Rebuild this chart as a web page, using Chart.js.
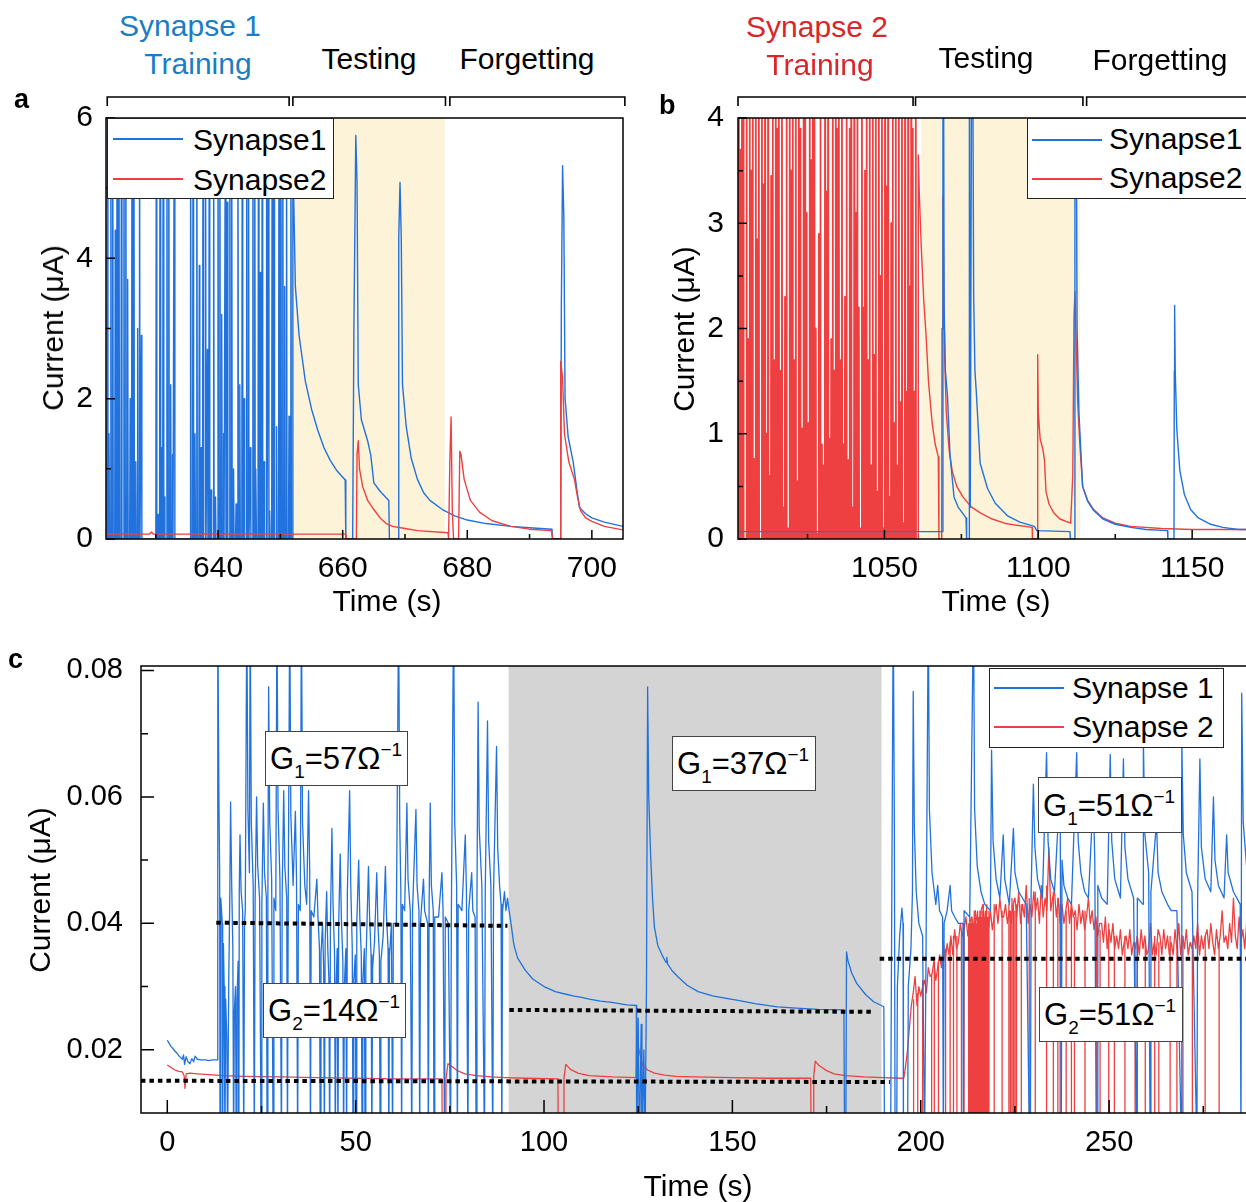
<!DOCTYPE html>
<html>
<head>
<meta charset="utf-8">
<script src="https://cdn.jsdelivr.net/npm/chart.js@4.4.1/dist/chart.umd.min.js"></script>
<style>
  body { margin: 0; width: 1246px; height: 1202px; overflow: hidden; background: #fff; position: relative;
         font-family: Arial, "Liberation Sans", sans-serif; color: #000; }
  .panel { position: absolute; }
  .txt { position: absolute; font-size: 30px; line-height: 30px; white-space: nowrap; }
  .mid { transform: translateX(-50%); }
  .ytitle { position: absolute; font-size: 30px; line-height: 30px; white-space: nowrap;
            transform: translate(-50%, -50%) rotate(-90deg); }
  .letter { position: absolute; font-size: 27px; line-height: 27px; font-weight: bold; }
  .legend { position: absolute; background: #fff; border: 1.2px solid #222; box-sizing: border-box; overflow: hidden; }
  .legend .ln { position: absolute; height: 2px; width: 70px; }
  .legend .lt { position: absolute; font-size: 30px; line-height: 30px; white-space: nowrap; }
  .ann { position: absolute; background: #fff; border: 1.2px solid #444; box-sizing: border-box;
         font-size: 31px; line-height: 31px; padding-left: 4px; display: flex; align-items: center; white-space: nowrap; }
  .ann sub { font-size: 19px; position: relative; top: 9px; vertical-align: baseline; line-height: 0; }
  .ann sup { font-size: 19px; position: relative; top: -13px; vertical-align: baseline; line-height: 0; }
</style>
</head>
<body>

<div class="panel" style="left:0;top:80px;width:640px;height:545px"><canvas id="ca" width="640" height="545"></canvas></div>
<div class="panel" style="left:640px;top:80px;width:640px;height:545px"><canvas id="cb" width="640" height="545"></canvas></div>
<div class="panel" style="left:0;top:636px;width:1262px;height:566px"><canvas id="cc" width="1262" height="566"></canvas></div>

<!-- phase headers -->
<div class="txt mid" style="left:190px;top:11px;color:#1c7dc3">Synapse 1</div>
<div class="txt mid" style="left:198px;top:49px;color:#1c7dc3">Training</div>
<div class="txt mid" style="left:369px;top:44px">Testing</div>
<div class="txt mid" style="left:527px;top:44px">Forgetting</div>
<div class="txt mid" style="left:817px;top:12px;color:#d9262b">Synapse 2</div>
<div class="txt mid" style="left:820px;top:50px;color:#d9262b">Training</div>
<div class="txt mid" style="left:986px;top:43px">Testing</div>
<div class="txt mid" style="left:1160px;top:45px">Forgetting</div>

<div class="letter" style="left:14px;top:86px">a</div>
<div class="letter" style="left:659px;top:92px">b</div>
<div class="letter" style="left:8px;top:646px">c</div>

<!-- axis titles -->
<div class="ytitle" style="left:53px;top:328px">Current (μA)</div>
<div class="ytitle" style="left:684px;top:329px">Current (μA)</div>
<div class="ytitle" style="left:40px;top:890px">Current (μA)</div>
<div class="txt mid" style="left:387px;top:586px">Time (s)</div>
<div class="txt mid" style="left:996px;top:586px">Time (s)</div>
<div class="txt mid" style="left:698px;top:1171px">Time (s)</div>

<!-- legends -->
<div class="legend" style="left:107px;top:118px;width:227px;height:81px">
  <div class="ln" style="left:5px;top:19px;background:#2172dc"></div>
  <div class="lt" style="left:85px;top:6px">Synapse1</div>
  <div class="ln" style="left:5px;top:59px;background:#ee4040"></div>
  <div class="lt" style="left:85px;top:46px">Synapse2</div>
</div>
<div class="legend" style="left:1027px;top:118px;width:260px;height:81px">
  <div class="ln" style="left:4px;top:20px;background:#2172dc"></div>
  <div class="lt" style="left:81px;top:5px">Synapse1</div>
  <div class="ln" style="left:4px;top:59px;background:#ee4040"></div>
  <div class="lt" style="left:81px;top:44px">Synapse2</div>
</div>
<div class="legend" style="left:989px;top:668px;width:235px;height:80px">
  <div class="ln" style="left:4px;top:18px;background:#2172dc"></div>
  <div class="lt" style="left:82px;top:4px">Synapse 1</div>
  <div class="ln" style="left:4px;top:57px;background:#ee4040"></div>
  <div class="lt" style="left:82px;top:43px">Synapse 2</div>
</div>

<!-- conductance notes -->
<div class="ann" style="left:265px;top:731px;width:143px;height:55px"><span>G<sub>1</sub>=57Ω<sup>−1</sup></span></div>
<div class="ann" style="left:263px;top:983px;width:143px;height:55px"><span>G<sub>2</sub>=14Ω<sup>−1</sup></span></div>
<div class="ann" style="left:672px;top:736px;width:144px;height:55px"><span>G<sub>1</sub>=37Ω<sup>−1</sup></span></div>
<div class="ann" style="left:1038px;top:777px;width:144px;height:56px"><span>G<sub>1</sub>=51Ω<sup>−1</sup></span></div>
<div class="ann" style="left:1039px;top:987px;width:144px;height:55px"><span>G<sub>2</sub>=51Ω<sup>−1</sup></span></div>

<script>
// ---------- panel a : synapse 1 training ----------
const aSyn1PulseT = [622.15,622.4,622.7,623.0,623.4,623.7,624.0,624.4,624.8,625.1,625.4,625.8,626.1,626.4,626.7,627.0,627.3,627.6,
  630.0,630.3,630.6,630.8,631.1,631.3,631.7,632.0,632.3,632.6,632.9,
  635.5,635.9,636.2,636.5,636.9,637.2,637.5,637.9,638.2,638.5,638.8,639.2,639.5,639.9,640.2,640.5,640.8,641.1,641.4,641.8,
  642.1,642.4,642.8,643.1,643.4,643.8,644.1,644.5,644.8,645.1,645.5,645.8,646.0,646.4,646.7,647.0,647.3,647.7,648.0,648.2,
  648.6,648.9,649.3,649.7,650.0,650.3,650.6,650.9,651.3,651.6];
const aSyn1PulsePeak = [7,1.5,7,7,4.4,7,7,7,7,7,3.7,2.0,7,7,1.1,3.0,7,2.9,
  7,0.35,7,1.3,7,0.6,7,7,2.2,1.2,7,
  7,7,1.5,7,3.9,1.3,7,7,2.7,7,0.7,7,0.6,7,7,3.2,1.5,7,4.8,7,
  7,1.0,0.5,7,2.2,7,2.0,7,7,1.3,7,7,1.0,7,3.8,7,1.1,7,7,0.4,
  7,7,1.6,7,7,7,3.6,7,1.75,7];
const aSyn1After = [[651.9,0],[652.0,7],[652.15,4.8],[652.4,3.6],[653,2.9],[654,2.25],[655,1.85],[656,1.55],[657,1.3],
  [658,1.12],[659,0.98],[660.4,0.84],[660.5,0],[661.6,0],[661.8,3.0],[662.1,5.75],[662.3,5.1],[662.5,2.2],[663,1.7],
  [664,1.4],[664.5,1.2],[665,0.8],[666,0.68],[667.4,0.55],[667.5,0],[668.9,0],[669.0,4.3],[669.2,5.08],[669.4,4.3],
  [669.6,2.2],[670.2,1.6],[671,1.15],[672,0.85],[673,0.66],[674,0.55],[676,0.42],[678,0.33],[680,0.27],[683,0.22],
  [687,0.18],[690,0.16],[693.6,0.14],[693.7,0],[695.0,0],[695.1,3.3],[695.3,5.32],[695.5,4.6],[695.7,2.0],[696.2,1.45],
  [697,1.1],[697.6,0.7],[698,0.45],[699,0.36],[700,0.3],[702,0.24],[705,0.18]];
const aSyn2 = [[622,0.07],[629,0.07],[629.3,0.1],[629.6,0.07],[660.5,0.07],[660.6,0],[662.2,0],[662.3,1.2],[662.5,1.4],
  [662.7,1.0],[663.2,0.75],[664,0.55],[665,0.42],[666,0.3],[667,0.22],[668,0.18],[670,0.15],[672,0.12],[676.9,0.09],
  [677.0,0],[677.2,1.1],[677.4,1.74],[677.6,0.4],[677.8,0],[678.6,0],[678.8,1.25],[679.0,1.2],[679.5,0.85],[680.5,0.55],
  [682,0.38],[684,0.26],[687,0.18],[690,0.14],[693.5,0.12],[693.7,0],[694.9,0],[695.0,2.53],[695.3,2.3],[695.6,1.5],
  [696.3,1.1],[697.2,0.85],[697.7,0.6],[698.2,0.4],[699,0.3],[700,0.25],[702,0.18],[705,0.13]];
const aShade = [651.7, 676.4];
const aPhases = [[622.2, 651.4], [652.0, 676.5], [677.2, 705.3]];

// ---------- panel b : synapse 2 training ----------
// one pulse every 0.5 s from 1002.6 s; most clip above 4 uA, the lower ones leave the white slits
const bSyn2PulseStart = 1002.6, bSyn2PulseStep = 0.5;
const bSyn2PulsePeak = [4.3,3.7,4.3,4.3,0,4.3,1.9,4.3,3.5,4.3,
  0.76,4.3,2.85,4.3,0,4.3,3.37,4.3,1.0,4.3,
  0.6,3.45,4.3,1.7,4.3,3.9,4.3,1.6,4.3,0.3,
  2.3,4.3,0.1,4.3,3.5,4.3,1.7,4.3,0.55,4.3,
  3.9,1.05,4.3,4.3,3.1,1.1,4.3,3.6,4.3,4.3,
  2.0,0.05,2.9,4.3,0.9,0.7,4.3,3.3,4.3,0.95,
  1.9,4.3,1.6,4.3,3.9,4.3,1.7,4.3,0.9,2.3,
  4.3,0.75,3.9,4.3,0.3,4.3,3.1,4.3,2.2,0.1,
  4.3,2.2,3.5,4.3,1.7,4.3,0.7,4.3,1.75,4.3,
  0.45,4.3,2.5,4.3,0.1,4.3,3.35,4.3,0.4,3.0,
  4.3,1.1,4.3,0.7,4.3,1.3,4.3,0.15,4.3,1.4,
  4.3,2.4,4.3,3.9,1.4,4.3];
const bSyn2After = [[1060.9,0],[1061.0,3.65],[1061.3,3.3],[1062,2.75],[1062.8,2.25],[1063.5,1.95],[1064.3,1.5],[1065.5,1.1],
  [1066.5,0.9],[1067.5,0.78],[1067.7,0],[1068.6,0],[1068.7,2.0],[1069.0,3.25],[1069.3,2.3],[1069.6,1.7],[1070.1,1.2],
  [1071,0.85],[1072,0.65],[1073.5,0.5],[1075.5,0.4],[1078,0.31],[1081,0.25],[1085,0.19],[1089,0.15],[1093,0.13],
  [1098.0,0.11],[1098.1,0],[1099.6,0],[1099.8,1.75],[1100.0,1.2],[1100.6,0.95],[1101.5,0.85],[1102.0,0.75],[1102.5,0.45],
  [1103.5,0.33],[1105,0.25],[1107,0.19],[1110.5,0.15],[1111.2,0.6],[1111.6,2.1],[1111.9,2.35],[1112.3,1.9],[1112.8,1.3],
  [1113.5,0.9],[1114.4,0.5],[1116,0.37],[1118,0.28],[1121,0.2],[1125,0.15],[1130,0.12],[1140,0.1],[1150,0.09],[1176,0.09]];
const bSyn1 = [[1002.4,0.07],[1068.9,0.07],[1069.0,4.5],[1069.2,4.5],[1069.4,2.2],[1069.8,1.6],[1070.5,1.35],[1071.3,0.8],
  [1072.6,0.4],[1074,0.3],[1076.5,0.2],[1076.7,0],[1077.5,0],[1077.6,4.5],[1077.9,0.3],[1078.3,4.5],[1078.7,4.5],
  [1079.0,2.3],[1079.4,1.6],[1079.9,1.37],[1081.1,0.72],[1083.5,0.48],[1086,0.34],[1090,0.22],[1094,0.16],[1098.7,0.12],
  [1099.5,0.08],[1110.3,0.07],[1110.4,0],[1111.8,0],[1111.9,4.5],[1112.3,4.5],[1112.6,2.0],[1113.2,1.2],[1114.4,0.5],
  [1116,0.36],[1118,0.27],[1121,0.19],[1125,0.14],[1130,0.11],[1135,0.09],[1142.0,0.08],[1142.1,0],[1144.1,0],
  [1144.2,1.6],[1144.3,2.22],[1144.5,1.6],[1145,1.05],[1146,0.65],[1147.5,0.42],[1149.5,0.28],[1152,0.2],[1156,0.14],
  [1160,0.11],[1165,0.09],[1176,0.09]];
const bShade = [1062.0, 1113.6];
const bPhases = [[1002.4, 1059.3], [1060.1, 1114.5], [1115.7, 1190]];

// ---------- panel c : both synapses ----------
const cSyn1Rest = [[0,0.0215],[0.5,0.021],[1,0.0205],[1.5,0.0202],[2,0.0198],[2.5,0.0195],[3,0.0191],[3.5,0.0188],
  [4,0.0185],[4.3,0.0192],[4.6,0.0177],[5,0.0189],[5.5,0.0181],[6,0.0178],[6.5,0.0186],[7,0.0181],[7.4,0.019],
  [8,0.0185],[9,0.0184],[10,0.0184],[11,0.0183],[12,0.0184],[13.2,0.0184]];
const cSyn1Train = [[13.4,0.09],[13.7,0.06],[13.9,0.048],[14.0,0.004],[14.2,0.044],[14.6,0.04],[14.7,0.004],[14.9,0.0368],
  [15.1,0.03],[15.3,0.004],[15.5,0.028],[15.8,0.022],[16.0,0.004],[16.3,0.03],[16.6,0.045],[16.8,0.0592],[17.1,0.046],
  [17.4,0.036],[17.6,0.004],[17.8,0.026],[18.1,0.03],[18.3,0.004],[18.5,0.028],[18.8,0.034],[19.0,0.004],[19.1,0.045],
  [19.3,0.054],[19.6,0.045],[20.0,0.042],[20.3,0.004],[20.5,0.04],[20.7,0.042],[21.1,0.09],[21.4,0.058],[21.8,0.048],
  [22.0,0.09],[22.3,0.056],[22.8,0.046],[23.1,0.004],[23.3,0.043],[23.7,0.060],[24.0,0.049],[24.5,0.044],[24.9,0.004],
  [25.1,0.043],[25.5,0.059],[25.8,0.048],[26.3,0.044],[26.5,0.004],[26.7,0.044],[26.9,0.0774],[27.2,0.056],[27.7,0.047],
  [28.1,0.004],[28.3,0.044],[28.8,0.042],[29.1,0.09],[29.4,0.058],[29.9,0.047],[30.3,0.004],[30.5,0.045],[30.9,0.061],
  [31.2,0.049],[31.7,0.044],[31.9,0.004],[32.1,0.044],[32.5,0.09],[32.8,0.057],[33.4,0.046],[34.0,0.0577],[34.3,0.047],
  [34.6,0.004],[34.8,0.043],[35.3,0.042],[35.6,0.09],[35.9,0.056],[36.5,0.046],[37.0,0.043],[37.5,0.061],[37.8,0.048],
  [38.0,0.004],[38.2,0.042],[38.9,0.041],[39.7,0.047],[40.0,0.041],[40.4,0.036],[40.6,0.004],[40.8,0.035],[41.2,0.04],
  [41.5,0.033],[41.7,0.004],[41.9,0.037],[42.3,0.045],[42.6,0.036],[42.9,0.031],[43.1,0.004],[43.3,0.04],[43.7,0.055],
  [44.0,0.043],[44.4,0.035],[44.6,0.004],[44.8,0.03],[45.1,0.036],[45.3,0.004],[45.5,0.04],[45.9,0.051],[46.2,0.041],
  [46.6,0.034],[46.8,0.004],[47.0,0.03],[47.4,0.036],[47.6,0.004],[47.8,0.045],[48.4,0.061],[48.7,0.046],[49.1,0.036],
  [49.3,0.004],[49.5,0.031],[49.9,0.035],[50.1,0.004],[50.3,0.04],[50.8,0.05],[51.1,0.041],[51.5,0.035],[51.7,0.004],
  [51.9,0.031],[52.3,0.036],[52.5,0.004],[52.7,0.033],[53.4,0.049],[53.7,0.041],[54.1,0.035],[54.3,0.004],[54.5,0.033],
  [55.0,0.037],[55.6,0.048],[55.9,0.04],[56.3,0.035],[56.5,0.004],[56.7,0.034],[57.3,0.038],[57.9,0.049],[58.2,0.041],
  [58.6,0.036],[58.8,0.004],[59.0,0.035],[59.5,0.04],[59.8,0.004],[60.0,0.04],[60.8,0.04],[61.4,0.09],[61.7,0.056],
  [62.0,0.045],[62.2,0.004],[62.4,0.043],[63.0,0.042],[63.6,0.059],[63.9,0.047],[64.5,0.042],[64.9,0.004],[65.1,0.042],
  [66.0,0.058],[66.3,0.046],[66.8,0.042],[67.0,0.004],[67.2,0.04],[68.0,0.047],[68.3,0.042],[69.1,0.04],[69.3,0.004],
  [69.5,0.043],[69.8,0.059],[70.1,0.046],[70.6,0.042],[70.8,0.004],[71.0,0.041],[72.0,0.041],[72.9,0.048],[73.2,0.042],
  [73.6,0.004],[73.8,0.041],[74.6,0.04],[75.2,0.004],[75.4,0.041],[76.0,0.09],[76.3,0.056],[76.8,0.046],[77.0,0.004],
  [77.2,0.043],[78.2,0.042],[79.1,0.054],[79.4,0.045],[79.8,0.004],[80.0,0.042],[80.8,0.048],[81.1,0.042],[81.7,0.041],
  [82.0,0.004],[82.2,0.044],[82.5,0.075],[82.8,0.055],[83.5,0.046],[84.2,0.004],[84.4,0.045],[85.0,0.072],[85.3,0.053],
  [85.9,0.046],[86.4,0.004],[86.6,0.045],[87.4,0.068],[87.7,0.052],[88.2,0.046],[88.6,0.043],[88.8,0.004],[89.0,0.042],
  [89.5,0.045],[89.9,0.042],[90.3,0.044],[90.6,0.0425]];
const cSyn1Test = [[91,0.041],[92,0.0366],[93,0.0345],[95,0.0326],[97,0.0312],[100,0.030],[103,0.0292],[105,0.0289],
  [108,0.0285],[110,0.0283],[112,0.028],[115,0.0277],[118,0.0275],[120,0.0273],[122,0.0271],[124.5,0.027],[124.6,0.004],
  [125.0,0.025],[125.3,0.004],[125.8,0.024],[126.0,0.004],[126.5,0.02],[126.8,0.004],[127.2,0.03],[127.5,0.0774],
  [127.8,0.06],[128.3,0.0508],[128.8,0.044],[129.3,0.0394],[130.2,0.0365],[131.4,0.0349],[132.4,0.0338],[132.6,0.0346],
  [132.8,0.0336],[134,0.0325],[135.6,0.0315],[138,0.0302],[140.9,0.0292],[145,0.0285],[151.5,0.0278],[156,0.0273],
  [162,0.0268],[167,0.0266],[172.7,0.0264],[179.6,0.0263],[179.8,0.004],[180.1,0.004],[180.3,0.0355],[180.7,0.034],
  [181.7,0.0321],[183,0.0305],[185.4,0.0287],[187.5,0.0276],[190.2,0.0268]];
const cSyn1Late = [[190.4,0.004],[192.0,0.004],[192.2,0.03],[192.7,0.09],[193.0,0.055],[193.2,0.004],[193.6,0.004],
  [193.8,0.03],[194.4,0.038],[195.0,0.0424],[195.3,0.04],[195.4,0.004],[196.5,0.004],[196.7,0.03],[197.4,0.036],
  [197.8,0.045],[198.0,0.0767],[198.3,0.055],[198.8,0.045],[199.5,0.04],[200.5,0.038],[201.0,0.004],[201.4,0.035],
  [202.0,0.09],[202.3,0.058],[203,0.048],[204,0.043],[204.5,0.046],[205,0.042],[205.8,0.041],[206.0,0.004],[206.2,0.04],
  [207.0,0.042],[207.8,0.046],[208.2,0.042],[209,0.041],[210,0.04],[211.2,0.04],[211.3,0.004],[211.5,0.042],[213,0.041],
  [214.0,0.09],[214.3,0.058],[215,0.049],[216,0.045],[217,0.043],[218.5,0.042],[218.8,0.0674],[219.2,0.053],[220,0.047],
  [221,0.044],[221.9,0.054],[222.3,0.047],[223.5,0.043],[224.6,0.055],[225,0.048],[226,0.045],[227,0.044],[228,0.043],
  [228.9,0.004],[229.1,0.004],[229.3,0.045],[229.9,0.062],[230.3,0.052],[231,0.047],[232.3,0.044],[233.4,0.067],
  [233.8,0.053],[234.5,0.047],[235.5,0.045],[237.0,0.062],[237.3,0.004],[237.5,0.05],[238,0.046],[239,0.044],[240,0.043],
  [241.4,0.067],[241.8,0.053],[242.5,0.048],[243.5,0.045],[244.5,0.044],[245.8,0.06],[246.2,0.05],[246.6,0.004],
  [246.8,0.004],[247,0.046],[248,0.044],[249.5,0.043],[250.3,0.0667],[250.7,0.053],[251.5,0.047],[253,0.044],
  [253.8,0.066],[254.2,0.052],[255,0.047],[256.5,0.044],[257.3,0.004],[257.5,0.044],[259.0,0.043],[259.1,0.069],
  [259.5,0.054],[260.5,0.048],[260.9,0.004],[261.1,0.045],[262.6,0.056],[263,0.048],[264,0.045],[265.5,0.043],
  [266.5,0.042],[268,0.042],[269.2,0.004],[269.3,0.069],[269.7,0.054],[270.5,0.048],[272,0.045],[273.3,0.004],
  [273.5,0.044],[274.1,0.066],[274.5,0.052],[275.5,0.047],[277,0.045],[277.7,0.06],[278.1,0.05],[279,0.046],
  [280.5,0.044],[281.2,0.054],[281.6,0.048],[283,0.045],[284.8,0.043],[285.0,0.004],[285.2,0.0764],[285.6,0.056],
  [286.5,0.049],[287.5,0.046]];
const cSyn2Early = [[0,0.0176],[1,0.0172],[2,0.0168],[3,0.0166],[4,0.0165],[4.5,0.0158],[4.7,0.0139],[5.0,0.0162],
  [6,0.0163],[8,0.0162],[10,0.0161],[15,0.0159],[20,0.0158],[30,0.0157],[40,0.0156],[50,0.0155],[60,0.0154],
  [72.9,0.0154],[73.0,0.004],[73.9,0.004],[74.0,0.0155],[74.5,0.0178],[75.5,0.0174],[77,0.0167],[79,0.0162],
  [82,0.0159],[86,0.0157],[90,0.0156],[95,0.0155],[103.7,0.0154],[103.8,0.004],[105.2,0.004],[105.3,0.0156],
  [105.8,0.0177],[107,0.0169],[109,0.0163],[112,0.0159],[118,0.0157],[124.4,0.0156],[124.6,0.0226],[125,0.0205],
  [126.2,0.0175],[127.5,0.0168],[129.3,0.0163],[132,0.016],[135,0.0158],[140,0.0157],[150,0.0156],[160,0.0155],
  [170.8,0.0155],[170.9,0.004],[171.5,0.004],[171.6,0.0158],[172,0.0182],[173,0.0175],[175,0.0167],[177,0.0162],
  [180,0.0159],[185,0.0157],[190,0.0156],[195.0,0.0155]];
const cSyn2LateStart = 195.5, cSyn2LateStep = 0.5;
const cSyn2Late = [0.0155,0.0175,0.020,0.0236,0.027,0.029,0.0316,0.027,0.030,0.0285,
  0.030,0.031,0.029,0.033,0.0316,0.032,0.034,0.031,0.033,0.035,
  0.033,0.037,0.034,0.0368,0.035,0.038,0.035,0.039,0.036,0.037,
  0.040,0.038,0.039,0.041,0.038,0.040,0.041,0.039,0.042,0.040,
  0.040,0.042,0.043,0.040,0.041,0.039,0.042,0.039,0.041,0.043,
  0.040,0.044,0.041,0.041,0.043,0.040,0.042,0.040,0.043,0.044,
  0.041,0.045,0.040,0.043,0.041,0.046,0.040,0.043,0.041,0.045,
  0.042,0.044,0.040,0.046,0.041,0.044,0.042,0.052,0.042,0.044,
  0.045,0.041,0.044,0.040,0.043,0.040,0.042,0.044,0.040,0.043,
  0.041,0.042,0.039,0.043,0.040,0.042,0.039,0.041,0.044,0.040,
  0.042,0.039,0.041,0.038,0.040,0.040,0.037,0.041,0.036,0.039,
  0.037,0.040,0.036,0.038,0.036,0.039,0.035,0.037,0.038,0.036,
  0.039,0.035,0.037,0.036,0.038,0.035,0.039,0.036,0.038,0.035,
  0.036,0.040,0.035,0.037,0.035,0.039,0.038,0.035,0.039,0.036,
  0.038,0.035,0.037,0.035,0.039,0.036,0.040,0.035,0.038,0.036,
  0.039,0.035,0.037,0.036,0.038,0.036,0.040,0.035,0.038,0.036,
  0.038,0.039,0.036,0.040,0.037,0.035,0.039,0.036,0.038,0.042,
  0.037,0.038,0.036,0.040,0.037,0.044,0.038,0.036,0.041,0.037,
  0.039,0.036,0.040,0.037,0.038];
const cSyn2DropT = [198.1,199.2,200.5,202.9,203.6,204.7, 206.6,207.8,208.7,209.6,210.8,211.5,
  212.7,213.0,213.3,213.6,213.9,214.2,214.5,214.8,215.1,215.4, 215.7,216.0,216.3,216.6,216.9,217.2,217.5,217.8,218.1,
  219.5,221.6,223.4,223.8,224.2,224.6,225.0,225.4, 226.7,228.8,230.4,233.4,235.2,236.4,237.0,238.6,240.0,240.8,
  243.6,246.7,247.6,249.9,251.4,254.2,256.9,257.5,259.6,262.1, 263.2,266.2,268.0,269.6,272.1,275.5,279.2];
const cSyn2DropTop = [0.028,0.029,0.031,0.032,0.034,0.034, 0.036,0.037,0.038,0.038,0.039,0.040,
  0.040,0.041,0.040,0.041,0.040,0.042,0.041,0.040,0.042,0.041, 0.042,0.041,0.042,0.043,0.041,0.042,0.043,0.041,0.042,
  0.043,0.042,0.043,0.042,0.044,0.043,0.042,0.043, 0.043,0.044,0.045,0.046,0.045,0.044,0.043,0.042,0.043,0.041,
  0.042,0.040,0.039,0.040,0.038,0.038,0.037,0.038,0.037,0.038, 0.037,0.038,0.037,0.038,0.037,0.038,0.037];
const cGuide1 = [[13,0.0401],[90.3,0.0396]];
const cGuide2 = [[90.8,0.0263],[187.6,0.026]];
const cGuide3 = [[-7,0.0151],[191.8,0.0149]];
const cGuide4 = [[189.1,0.0344],[287.4,0.0344]];
const cShade = [90.6, 189.6];

const BLUE = '#2172dc', RED = '#ee4040';

// ---------- helpers ----------
const pts = p => p.map(([x, y]) => ({x, y}));
const sampled = (t0, dt, v) => v.map((y, i) => ({x: t0 + i * dt, y}));
const pulses = (ts, pk) => ts.flatMap((t, i) => [{x: t, y: 0}, {x: t + 0.08, y: pk[i]}, {x: t + 0.16, y: 0}]);
const drops = (ts, top) => ts.flatMap((t, i) => [{x: t, y: 0.004}, {x: t, y: top[i]}, {x: t, y: null}]);

const shadePlugin = {
  id: 'shade',
  beforeDatasetsDraw(chart, args, o) {
    if (!o || !o.range) return;
    const {ctx, chartArea: a, scales: {x}} = chart;
    const x0 = Math.max(a.left, x.getPixelForValue(o.range[0]));
    const x1 = Math.min(a.right, x.getPixelForValue(o.range[1]));
    ctx.save();
    ctx.fillStyle = o.color;
    ctx.fillRect(x0, a.top, x1 - x0, a.bottom - a.top);
    ctx.restore();
  }
};

// box frame + inward ticks on bottom and left
const framePlugin = {
  id: 'frame',
  afterDatasetsDraw(chart, args, o) {
    const {ctx, chartArea: a, scales: {x, y}} = chart;
    const minor = s => {
      const v = s.ticks.map(t => t.value), st = v[1] - v[0];
      return v.map(t => t - st / 2).concat([v[v.length - 1] + st / 2]).filter(m => m > s.min && m < s.max);
    };
    ctx.save();
    ctx.strokeStyle = '#000';
    ctx.lineWidth = 1.5;
    ctx.beginPath();
    x.ticks.forEach(t => { const p = x.getPixelForValue(t.value); ctx.moveTo(p, a.bottom); ctx.lineTo(p, a.bottom - o.major); });
    minor(x).forEach(m => { const p = x.getPixelForValue(m); ctx.moveTo(p, a.bottom); ctx.lineTo(p, a.bottom - o.minor); });
    y.ticks.forEach(t => { const p = y.getPixelForValue(t.value); ctx.moveTo(a.left, p); ctx.lineTo(a.left + o.major, p); });
    minor(y).forEach(m => { const p = y.getPixelForValue(m); ctx.moveTo(a.left, p); ctx.lineTo(a.left + o.minor, p); });
    ctx.stroke();
    ctx.strokeRect(a.left, a.top, a.right - a.left, a.bottom - a.top);
    ctx.restore();
  }
};

const bracketPlugin = {
  id: 'brackets',
  afterDraw(chart, args, o) {
    if (!o || !o.spans) return;
    const {ctx, chartArea: a, scales: {x}} = chart;
    const yTop = a.top - 21, yEnd = yTop + 9;
    ctx.save();
    ctx.strokeStyle = '#000';
    ctx.lineWidth = 1.6;
    ctx.beginPath();
    o.spans.forEach(([s, e]) => {
      const x0 = x.getPixelForValue(s), x1 = x.getPixelForValue(e);
      ctx.moveTo(x0, yEnd); ctx.lineTo(x0, yTop); ctx.lineTo(x1, yTop); ctx.lineTo(x1, yEnd);
    });
    ctx.stroke();
    ctx.restore();
  }
};

Chart.defaults.font.family = 'Arial, "Liberation Sans", sans-serif';
Chart.defaults.color = '#000';

function makePanel(id, datasets, c) {
  return new Chart(document.getElementById(id), {
    type: 'line',
    data: { datasets },
    options: {
      animation: false, responsive: false, devicePixelRatio: 1,
      layout: { padding: c.pad },
      elements: { point: { radius: 0 }, line: { tension: 0, borderJoinStyle: 'round' } },
      plugins: {
        legend: { display: false }, tooltip: { enabled: false },
        shade: c.shade, brackets: c.brackets || {}, frame: { major: c.major, minor: c.minor }
      },
      scales: {
        x: {
          type: 'linear', min: c.x[0], max: c.x[1],
          grid: { display: false }, border: { display: false },
          ticks: { stepSize: c.x[2], includeBounds: false, autoSkip: false, maxRotation: 0,
                   padding: c.xPad, font: { size: c.fs }, callback: v => String(v) },
          afterFit: s => { s.height = c.xh; }
        },
        y: {
          type: 'linear', min: c.y[0], max: c.y[1],
          grid: { display: false }, border: { display: false },
          ticks: { stepSize: c.y[2], includeBounds: false, padding: c.yPad, font: { size: c.fs },
                   callback: c.yFmt || (v => String(v)) },
          afterFit: s => { s.width = c.yw; }
        }
      }
    },
    plugins: [shadePlugin, framePlugin, bracketPlugin]
  });
}

const line = (data, color, w, order) => ({ data, borderColor: color, borderWidth: w, order, spanGaps: false });
const guide = data => ({ data: pts(data), borderColor: '#000', borderWidth: 4, borderDash: [4.5, 4], order: 0 });

makePanel('ca', [
  line(pulses(aSyn1PulseT, aSyn1PulsePeak).concat(pts(aSyn1After)), BLUE, 1.4, 2),
  line(pts(aSyn2), RED, 1.4, 1)
], { pad: {left: 0, top: 38, right: 17, bottom: 0}, x: [622, 705, 20], y: [0, 6, 2], yw: 106, xh: 86,
     xPad: 4, yPad: 5, fs: 30, major: 9, minor: 5,
     shade: { range: aShade, color: '#fdf3d8' }, brackets: { spans: aPhases } });

const bPulseT = bSyn2PulsePeak.map((p, i) => bSyn2PulseStart + i * bSyn2PulseStep);

makePanel('cb', [
  line(pts(bSyn1), BLUE, 1.4, 1),
  line(pulses(bPulseT, bSyn2PulsePeak), RED, 1.8, 2),
  line(pts(bSyn2After), RED, 1.4, 2)
], { pad: {left: 0, top: 38, right: 10, bottom: 0}, x: [1002.4, 1175.3, 50], y: [0, 4, 1], yw: 98, xh: 86,
     xPad: 4, yPad: 6, fs: 30, major: 9, minor: 5,
     shade: { range: bShade, color: '#fdf3d8' }, brackets: { spans: bPhases } });

makePanel('cc', [
  guide(cGuide1), guide(cGuide2), guide(cGuide3), guide(cGuide4),
  line(pts(cSyn1Rest.concat(cSyn1Train, cSyn1Test, cSyn1Late)), BLUE, 1.3, 1),
  line(pts(cSyn2Early).concat(sampled(cSyn2LateStart, cSyn2LateStep, cSyn2Late)), RED, 1.3, 2),
  line(drops(cSyn2DropT, cSyn2DropTop), RED, 1.3, 2)
], { pad: {left: 0, top: 30, right: 12, bottom: 0}, x: [-6.98, 287.4, 50], y: [0.01, 0.0807, 0.02], yw: 141, xh: 89,
     xPad: 5, yPad: 10, fs: 29, major: 13, minor: 7, yFmt: v => v.toFixed(2),
     shade: { range: cShade, color: '#d4d4d4' } });
</script>
</body>
</html>
